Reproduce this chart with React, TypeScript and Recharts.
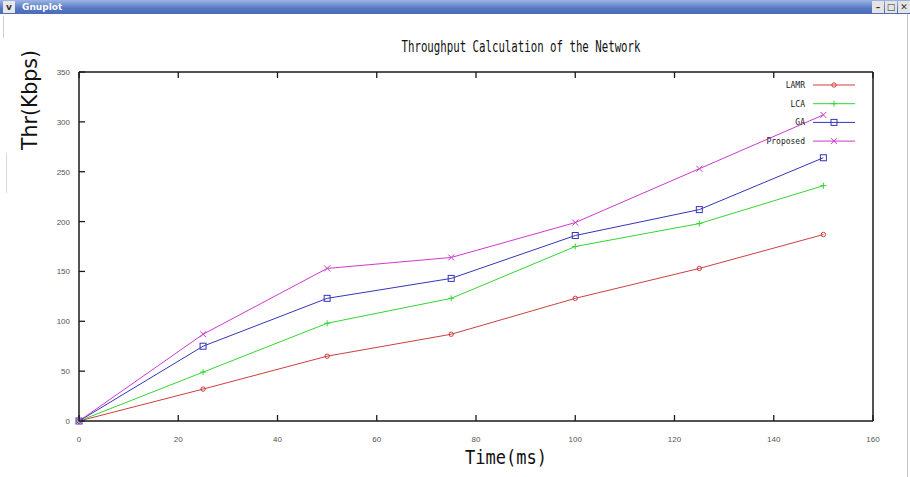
import React from "react";
import { LineChart, Line, XAxis, YAxis } from "recharts";

const times = [0, 25, 50, 75, 100, 125, 150];
const lamr = [0, 32, 65, 87, 123, 153, 187];
const lca = [0, 49, 98, 123, 175, 198, 236];
const ga = [0, 75, 123, 143, 186, 212, 264];
const proposed = [0, 87, 153, 164, 199, 253, 307];

const xTicks = [0, 20, 40, 60, 80, 100, 120, 140, 160];
const yTicks = [0, 50, 100, 150, 200, 250, 300, 350];

const series = [
  { key: "lamr", name: "LAMR", color: "#cc4040", marker: "circle" },
  { key: "lca", name: "LCA", color: "#33d633", marker: "plus" },
  { key: "ga", name: "GA", color: "#3535b8", marker: "square" },
  { key: "proposed", name: "Proposed", color: "#cc3acc", marker: "cross" },
];

const data = times.map((t, i) => ({
  t,
  lamr: lamr[i],
  lca: lca[i],
  ga: ga[i],
  proposed: proposed[i],
}));

const tickFont = { fontFamily: "Liberation Sans, Arial, sans-serif", fontSize: 8, fill: "#555" };
const axisColor = "#1a1a1a";

function Marker({ cx, cy, color, kind }: any) {
  if (cx == null || cy == null) return null;
  switch (kind) {
    case "circle":
      return <circle cx={cx} cy={cy} r={2.2} fill="none" stroke={color} strokeWidth={1} />;
    case "plus":
      return (
        <g stroke={color} strokeWidth={1}>
          <line x1={cx - 3} y1={cy} x2={cx + 3} y2={cy} />
          <line x1={cx} y1={cy - 3} x2={cx} y2={cy + 3} />
        </g>
      );
    case "square":
      return <rect x={cx - 3} y={cy - 3} width={6} height={6} fill="none" stroke={color} strokeWidth={1} />;
    default:
      return (
        <g stroke={color} strokeWidth={1}>
          <line x1={cx - 3} y1={cy - 3} x2={cx + 3} y2={cy + 3} />
          <line x1={cx - 3} y1={cy + 3} x2={cx + 3} y2={cy - 3} />
        </g>
      );
  }
}

// plot box edges, used so the inward tick marks start on the border line
const PLOT_BOTTOM = 421;
const PLOT_TOP = 72;
const PLOT_LEFT = 79;
const PLOT_RIGHT = 873;

const BottomTick = ({ x, payload }: any) => (
  <g>
    <line x1={x} y1={PLOT_BOTTOM} x2={x} y2={PLOT_BOTTOM - 6} stroke={axisColor} strokeWidth={1.3} />
    <text x={x} y={PLOT_BOTTOM + 21} textAnchor="middle" {...tickFont}>
      {payload.value}
    </text>
  </g>
);

const TopTick = ({ x }: any) => (
  <line x1={x} y1={PLOT_TOP} x2={x} y2={PLOT_TOP + 6} stroke={axisColor} strokeWidth={1.3} />
);

const LeftTick = ({ y, payload }: any) => (
  <g>
    <line x1={PLOT_LEFT} y1={y} x2={PLOT_LEFT + 6} y2={y} stroke={axisColor} strokeWidth={1.3} />
    <text x={PLOT_LEFT - 9} y={y + 3} textAnchor="end" {...tickFont}>
      {payload.value}
    </text>
  </g>
);

const RightTick = ({ y }: any) => (
  <line x1={PLOT_RIGHT} y1={y} x2={PLOT_RIGHT - 6} y2={y} stroke={axisColor} strokeWidth={1.3} />
);

const LegendBox = () => (
  <svg width={130} height={80} style={{ position: "absolute", left: 740, top: 75 }}>
    {series.map((s, i) => {
      const y = 10 + i * 18.7;
      return (
        <g key={s.key}>
          <text
            x={65}
            y={y + 3}
            textAnchor="end"
            fontFamily="DejaVu Sans Mono, monospace"
            fontSize={8}
            fill="#222"
          >
            {s.name}
          </text>
          <line x1={73} y1={y} x2={115} y2={y} stroke={s.color} strokeWidth={1} />
          <Marker cx={94} cy={y} color={s.color} kind={s.marker} />
        </g>
      );
    })}
  </svg>
);

export default function App() {
  return (
    <div
      style={{
        position: "absolute",
        left: 0,
        top: 0,
        width: 910,
        height: 477,
        background: "#fff",
        overflow: "hidden",
        fontFamily: "DejaVu Sans, sans-serif",
      }}
    >
      {/* window title bar */}
      <div
        style={{
          position: "absolute",
          left: 0,
          top: 0,
          width: 910,
          height: 14,
          background: "linear-gradient(to bottom, #9db4e4, #5577c4 60%, #4a6bb8)",
        }}
      >
        <div
          style={{
            position: "absolute",
            left: 3,
            top: 1,
            width: 12,
            height: 12,
            background: "#e8e8e8",
            fontSize: 9,
            fontWeight: "bold",
            lineHeight: "12px",
            textAlign: "center",
            color: "#333",
          }}
        >
          v
        </div>
        <div
          style={{
            position: "absolute",
            left: 22,
            top: 0,
            fontSize: 9,
            lineHeight: "14px",
            fontWeight: "bold",
            color: "#fff",
          }}
        >
          Gnuplot
        </div>
        {["–", "□", "✕"].map((c, i) => (
          <div
            key={i}
            style={{
              position: "absolute",
              left: 872 + i * 13,
              top: 1,
              width: 12,
              height: 12,
              background: "#e4e4e4",
              fontSize: 9,
              fontWeight: "bold",
              lineHeight: "12px",
              textAlign: "center",
              color: "#333",
            }}
          >
            {c}
          </div>
        ))}
      </div>
      <div style={{ position: "absolute", left: 907, top: 14, width: 1, height: 463, background: "#c8c8c8" }} />
      <div style={{ position: "absolute", left: 3, top: 16, width: 1, height: 22, background: "#cfcfcf" }} />
      <div style={{ position: "absolute", left: 6, top: 153, width: 1, height: 40, background: "#d8d8d8" }} />

      <LineChart
        width={910}
        height={477}
        data={data}
        margin={{ top: 71, right: 36, bottom: 0, left: 0 }}
        style={{ position: "absolute", left: 0, top: 0 }}
      >
        <XAxis
          xAxisId="b"
          dataKey="t"
          type="number"
          domain={[0, 160]}
          ticks={xTicks}
          interval={0}
          height={56}
          tickSize={0}
          tickMargin={0}
          tickLine={false}
          tick={<BottomTick />}
          axisLine={{ stroke: axisColor, strokeWidth: 1.5 }}
        />
        <XAxis
          xAxisId="top"
          orientation="top"
          dataKey="t"
          type="number"
          domain={[0, 160]}
          ticks={xTicks}
          interval={0}
          height={1}
          tickSize={0}
          tickMargin={0}
          tickLine={false}
          tick={<TopTick />}
          axisLine={{ stroke: axisColor, strokeWidth: 1.5 }}
        />
        <YAxis
          yAxisId="l"
          type="number"
          domain={[0, 350]}
          ticks={yTicks}
          interval={0}
          width={79}
          tickSize={0}
          tickMargin={0}
          tickLine={false}
          tick={<LeftTick />}
          axisLine={{ stroke: axisColor, strokeWidth: 1.5 }}
        />
        <YAxis
          yAxisId="r"
          orientation="right"
          type="number"
          domain={[0, 350]}
          ticks={yTicks}
          interval={0}
          width={1}
          tickSize={0}
          tickMargin={0}
          tickLine={false}
          tick={<RightTick />}
          axisLine={{ stroke: axisColor, strokeWidth: 1.5 }}
        />
        {series.map((s) => (
          <Line
            key={s.key}
            xAxisId="b"
            yAxisId="l"
            type="linear"
            dataKey={s.key}
            name={s.name}
            stroke={s.color}
            strokeWidth={1}
            isAnimationActive={false}
            dot={(p: any) => (
              <Marker key={`${s.key}-${p.index}`} cx={p.cx} cy={p.cy} color={s.color} kind={s.marker} />
            )}
            activeDot={false}
          />
        ))}
        <text
          x={521}
          y={52}
          textAnchor="middle"
          fontFamily="DejaVu Sans Mono, monospace"
          fontSize={16}
          textLength={239}
          lengthAdjust="spacingAndGlyphs"
          fill="#111"
        >
          Throughput Calculation of the Network
        </text>
        <text
          x={37}
          y={100}
          transform="rotate(-90 37 100)"
          textAnchor="middle"
          fontFamily="DejaVu Sans, sans-serif"
          fontSize={21}
          textLength={100}
          lengthAdjust="spacingAndGlyphs"
          fill="#111"
        >
          Thr(Kbps)
        </text>
        <text
          x={506}
          y={464}
          textAnchor="middle"
          fontFamily="DejaVu Sans Mono, monospace"
          fontSize={20}
          textLength={82}
          lengthAdjust="spacingAndGlyphs"
          fill="#111"
        >
          Time(ms)
        </text>
      </LineChart>
      <LegendBox />
    </div>
  );
}
